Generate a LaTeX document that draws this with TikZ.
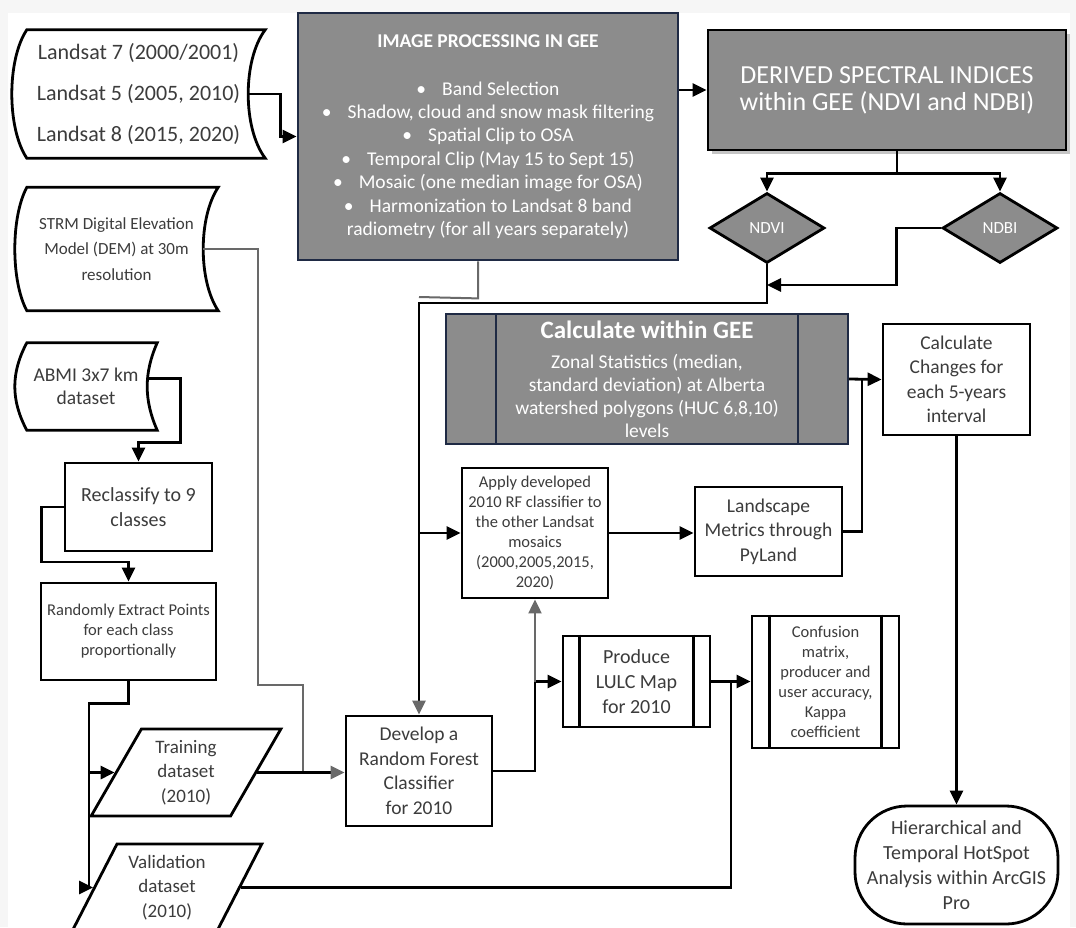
\documentclass[tikz,border=0pt]{standalone}
\usepackage{fontspec}
\setmainfont{Carlito}
\usetikzlibrary{positioning,arrows.meta,shapes.geometric,shadows,calc}

\definecolor{boxgray}{RGB}{140,140,140}
\definecolor{navy}{RGB}{31,42,68}
\definecolor{txt}{RGB}{60,60,60}
\definecolor{linegray}{RGB}{105,105,105}

% stored data outline round a node: name, left bulge, right bow
\newcommand{\storedshape}[3]{%
  \draw[line width=2.8pt] ([xshift=#2pt]#1.north west) -- (#1.north east)
    .. controls +({-1.333*#3},30) and +({-1.333*#3},-30) .. (#1.south east)
    -- ([xshift=#2pt]#1.south west)
    .. controls +({-1.333*#2},-30) and +({-1.333*#2},30) .. cycle;}
% inner bars of a predefined process box
\newcommand{\sidebars}[3]{%
  \draw[#3] ([xshift=#2pt]#1.north west) -- ([xshift=#2pt]#1.south west)
    ([xshift=-#2pt]#1.north east) -- ([xshift=-#2pt]#1.south east);}

\begin{document}
\begin{tikzpicture}[x=1pt,y=-1pt,
  every node/.style={align=center, inner sep=0pt, text=txt},
  box/.style={draw=black, line width=2.8pt, fill=white},
  graybox/.style={draw=black, line width=2.8pt, fill=boxgray, text=white},
  dataio/.style={draw=black, line width=2.8pt, trapezium, trapezium left angle=62,
    trapezium right angle=118, trapezium stretches=true,
    minimum width=190pt, minimum height=87pt},
  conn/.style={line width=2.8pt, -{Triangle[length=14pt,width=13pt]}},
  graytip/.style={-{Triangle[length=14pt,width=13pt,color=linegray]}},
  link/.style={line width=2.8pt},
  grayconn/.style={line width=2pt, draw=linegray},
  big/.style={font=\fontsize{19.5}{24.5}\selectfont},
  small/.style={font=\fontsize{16.5}{20}\selectfont}]

  \fill[gray!7] (0,0) rectangle (1076,927);
  \fill[white] (8,13) rectangle (1070,927);
  \useasboundingbox (0,0) rectangle (1076,927);

  % inputs
  \node[minimum width=253pt, minimum height=128pt, font=\fontsize{22}{41}\selectfont]
    (landsat) at (138.5,94) {Landsat 7 (2000/2001)\\Landsat 5 (2005, 2010)\\Landsat 8 (2015, 2020)};
  \storedshape{landsat}{15}{17}
  \node[minimum width=203pt, minimum height=123pt, font=\fontsize{17}{25.5}\selectfont]
    (strm) at (116.5,249) {STRM Digital Elevation\\Model (DEM) at 30m\\resolution};
  \storedshape{strm}{12}{15}
  \node[minimum width=142pt, minimum height=87pt, font=\fontsize{19.5}{23}\selectfont]
    (abmi) at (86,386.5) {ABMI 3x7 km\\dataset};
  \storedshape{abmi}{12}{10}

  % GEE processing
  \node[graybox, draw=navy, minimum width=380pt, minimum height=247pt,
    font=\fontsize{19.5}{23.4}\selectfont] (gee) at (488,136.5)
    {{\bfseries\fontsize{19.5}{22}\selectfont IMAGE PROCESSING IN GEE}\\[24.6pt]
     \textbullet\hspace{16pt}Band Selection\\
     \textbullet\hspace{16pt}Shadow, cloud and snow mask filtering\\
     \textbullet\hspace{16pt}Spatial Clip to OSA\\
     \textbullet\hspace{16pt}Temporal Clip (May 15 to Sept 15)\\
     \textbullet\hspace{16pt}Mosaic (one median image for OSA)\\
     \textbullet\hspace{16pt}Harmonization to Landsat 8 band\\
     radiometry (for all years separately)};
  \node[graybox, drop shadow={shadow xshift=4pt, shadow yshift=-4pt, fill=black!45},
    minimum width=358pt, minimum height=120pt, font=\fontsize{26}{27}\selectfont]
    (derived) at (887,90) {DERIVED SPECTRAL INDICES\\within GEE (NDVI and NDBI)};
  \node[graybox, diamond, minimum width=115pt, minimum height=70pt,
    font=\fontsize{17}{18}\selectfont] (ndvi) at (767,228) {NDVI};
  \node[graybox, diamond, minimum width=115pt, minimum height=70pt,
    font=\fontsize{17}{18}\selectfont] (ndbi) at (1000,228) {NDBI};
  \node[graybox, draw=navy, line width=1.6pt, minimum width=402pt, minimum height=130pt,
    font=\fontsize{19.5}{23}\selectfont] (calcgee) at (647,379)
    {{\bfseries\fontsize{25}{28}\selectfont Calculate within GEE}\\[7pt]
     Zonal Statistics (median,\\standard deviation) at Alberta\\
     watershed polygons (HUC 6,8,10)\\levels};
  \sidebars{calcgee}{51}{navy, line width=1.6pt}

  % processing steps
  \node[box, big, minimum width=147pt, minimum height=111pt] (calcchg) at (956.5,379.5)
    {Calculate\\Changes for\\each 5-years\\interval};
  \node[box, small, minimum width=146pt, minimum height=130pt] (apply) at (535,533)
    {Apply developed\\2010 RF classifier to\\the other Landsat\\mosaics\\(2000,2005,2015,\\2020)};
  \node[box, big, minimum width=147pt, minimum height=89pt] (landscape) at (768.5,531.5)
    {Landscape\\Metrics through\\PyLand};
  \node[box, font=\fontsize{20}{25}\selectfont, minimum width=147pt, minimum height=88pt]
    (reclass) at (138.5,507) {Reclassify to 9\\classes};
  \node[box, small, minimum width=175pt, minimum height=97pt] (randomly) at (128.5,631.5)
    {Randomly Extract Points\\for each class\\proportionally};
  \node[dataio, font=\fontsize{19}{24.5}\selectfont] (training) at (186,772.5)
    {Training\\dataset\\(2010)};
  \node[dataio, font=\fontsize{19}{24.5}\selectfont] (validation) at (167,887.5)
    {Validation\\dataset\\(2010)};
  \node[box, big, minimum width=146pt, minimum height=110pt] (develop) at (419,771)
    {Develop a\\Random Forest\\Classifier\\for 2010};
  \node[box, font=\fontsize{20}{25}\selectfont, minimum width=147pt, minimum height=91pt]
    (produce) at (636.5,681.5) {Produce\\LULC Map\\for 2010};
  \sidebars{produce}{18}{line width=2.8pt}
  \node[box, small, minimum width=147pt, minimum height=132pt] (confusion) at (825.5,682)
    {Confusion\\matrix,\\producer and\\user accuracy,\\Kappa\\coefficient};
  \sidebars{confusion}{19}{line width=2.8pt}
  \node[box, rounded corners=52pt, font=\fontsize{20}{25}\selectfont,
    minimum width=203pt, minimum height=118pt] (hotspot) at (956.5,865)
    {Hierarchical and\\Temporal HotSpot\\Analysis within ArcGIS\\Pro};

  % junction points
  \coordinate (geejoin) at (419,297);
  \coordinate (ndvibend) at (419,303);
  \coordinate (ndbijoin) at (767,285);
  \coordinate (applytap) at (419,533);
  \coordinate (chgtap) at (862,379.5);
  \coordinate (prodtap) at (535,681.5);
  \coordinate (valtap) at (731,681.5);
  \coordinate (strmjoin) at (303,772.5);
  \coordinate (datasplit) at (89,772.5);

  % top flow
  \draw[conn] ([xshift=-17pt]landsat.east) -- ++(32,0) |- (gee.west);
  \draw[conn] (gee.east |- derived.west) -- (derived.west);
  \draw[link] ([xshift=10pt]derived.south) -- ++(0,22) coordinate (split);
  \draw[conn] (split) -| (ndvi.north);
  \draw[conn] (split) -| (ndbi.north);
  \draw[conn] (ndbi.west) -- ++(-45,0) |- (ndbijoin);
  \draw[grayconn] ([xshift=-10pt]gee.south) -- ++(0,37) -- (geejoin);
  \draw[conn, graytip] (ndvi.south) |- (ndvibend) -- (develop.north);

  % middle flow
  \draw[conn] (applytap) -- (apply.west);
  \draw[conn] (apply.east) -- (landscape.west |- apply.east);
  \draw[link] (landscape.east) -| (chgtap);
  \draw[conn] (calcgee.east) -- (calcchg.west);
  \draw[conn] (calcchg.south) -- (hotspot.north);
  \draw[conn] (develop.east) -| (prodtap) -- (produce.west);
  \draw[grayconn, graytip] (prodtap) -- (apply.south);
  \draw[conn] (produce.east) -- (confusion.west |- produce.east);
  \draw[link] (validation.right side) -| (valtap);

  % left column
  \draw[grayconn] ([xshift=-15pt]strm.east) -| (258,685) -| (strmjoin);
  \draw[conn, graytip] (training.right side) -- (develop.west |- training.right side);
  \draw[conn] ([xshift=-10pt,yshift=8pt]abmi.east) -- ++(33,0) -- ++(0,64) -| (reclass.north);
  \draw[conn] (reclass.west) -- ++(-22,0) -- ++(0,55) -| (randomly.north);
  \draw[link] (randomly.south) -- ++(0,22) -| (datasplit);
  \draw[conn] (datasplit) -- (training.left side);
  \draw[conn] (datasplit) |- (validation.left side);
\end{tikzpicture}
\end{document}
